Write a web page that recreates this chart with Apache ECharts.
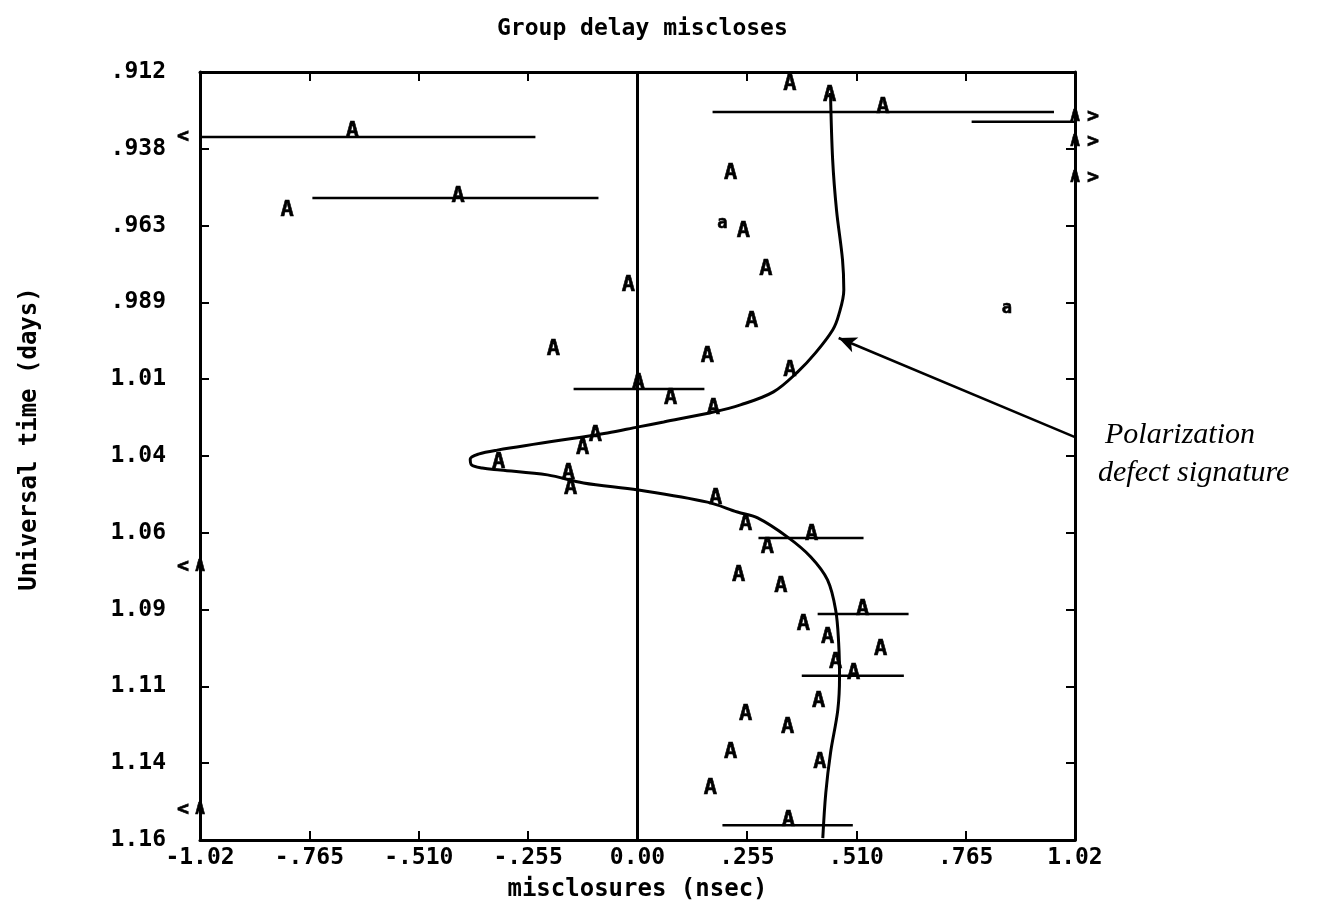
<!DOCTYPE html>
<html><head><meta charset="utf-8">
<script src="https://cdn.jsdelivr.net/npm/echarts@6/dist/echarts.min.js"></script>
<style>html,body{margin:0;padding:0;background:#fff}#c{width:1332px;height:909px}</style>
</head><body><div id="c"></div>
<script>
// ---- tick labels ----
const xTickValues = [-1.02, -0.765, -0.51, -0.255, 0, 0.255, 0.51, 0.765, 1.02];
const xTickLabels = ['-1.02', '-.765', '-.510', '-.255', '0.00', '.255', '.510', '.765', '1.02'];
const yTickValues = [0.912, 0.9368, 0.9616, 0.9864, 1.0112, 1.036, 1.0608, 1.0856, 1.1104, 1.1352, 1.16];
const yTickLabels = ['.912', '.938', '.963', '.989', '1.01', '1.04', '1.06', '1.09', '1.11', '1.14', '1.16'];

// ---- "A" observations: [misclosure nsec, UT days] ----
const obsA = [
  [0.355, 0.9159], [0.448, 0.9194], [0.572, 0.9233], [-0.665, 0.9311], [-0.418, 0.9520],
  [-0.817, 0.9566], [0.217, 0.9446], [0.247, 0.9633], [0.299, 0.9756], [-0.021, 0.9808],
  [0.266, 0.9924], [-0.196, 1.0014], [0.163, 1.0037], [0.355, 1.0082], [0.002, 1.0124],
  [0.077, 1.0173], [0.177, 1.0205], [-0.098, 1.0292], [-0.128, 1.0334], [-0.324, 1.0379],
  [-0.161, 1.0415], [-0.156, 1.0463], [0.182, 1.0496], [0.252, 1.0580], [0.406, 1.0612],
  [0.303, 1.0654], [0.236, 1.0744], [0.334, 1.0780], [0.525, 1.0854], [0.387, 1.0903],
  [0.443, 1.0944], [0.567, 1.0983], [0.462, 1.1025], [0.504, 1.1061], [0.422, 1.1151],
  [0.252, 1.1193], [0.350, 1.1235], [0.217, 1.1316], [0.425, 1.1348], [0.170, 1.1432],
  [0.352, 1.1535]
];
// ---- small "a" observations ----
const obsSmallA = [[0.198, 0.9608], [0.861, 0.9885]];

// ---- off-scale observations (plotted at the axis edge) ----
const offLeftA = [[-1.02, 1.0718], [-1.02, 1.1503]];
const offRightA = [[1.02, 0.9265], [1.02, 0.9346], [1.02, 0.9462]];
const offLeftMarks = [[-1.02, 0.9330], [-1.02, 1.0718], [-1.02, 1.1503]];
const offRightMarks = [[1.02, 0.9265], [1.02, 0.9346], [1.02, 0.9462]];

// ---- error bars: [low, high, UT days] ----
const errBars = [
  [0.175, 0.971, 0.9249], [-1.10, -0.238, 0.9330], [-0.758, -0.091, 0.9527],
  [0.779, 1.10, 0.9281], [-0.149, 0.156, 1.0144], [0.282, 0.527, 1.0625],
  [0.420, 0.632, 1.0870], [0.383, 0.621, 1.1070], [0.198, 0.502, 1.1552]
];

// ---- hand-drawn signature curve ----
const curveX = [0.450, 0.455, 0.464, 0.478, 0.481, 0.469, 0.455, 0.415, 0.373, 0.317, 0.240, 0.177,
  0.061, 0.002, -0.070, -0.098, -0.327, -0.371, -0.390, -0.387, -0.362, -0.320, -0.210, -0.126,
  0.002, 0.163, 0.233, 0.280, 0.350, 0.404, 0.443, 0.462, 0.469, 0.471, 0.467, 0.450, 0.439, 0.432];
const curveY = [0.9188, 0.9404, 0.9566, 0.9727, 0.9824, 0.9905, 0.9953, 1.0027, 1.0089, 1.0153, 1.0195, 1.0218,
  1.0250, 1.0266, 1.0286, 1.0292, 1.0341, 1.0354, 1.0370, 1.0389, 1.0399, 1.0405, 1.0421, 1.0447,
  1.0470, 1.0509, 1.0541, 1.0560, 1.0622, 1.0686, 1.0760, 1.0857, 1.0964, 1.1074, 1.1180, 1.1319, 1.1448, 1.1594];

// ---- annotation arrow ----
const arrowStart = [1.02, 1.0299];
const arrowEnd = [0.469, 0.9979];

const MONO = "'DejaVu Sans Mono', 'Liberation Mono', monospace";
const chart = echarts.init(document.getElementById('c'), null, {renderer: 'canvas'});

function nearestLabel(vals, labels) {
  return function (v) {
    let best = 0, bd = Infinity;
    vals.forEach((t, i) => { const d = Math.abs(t - v); if (d < bd) { bd = d; best = i; } });
    return bd < 1e-6 ? labels[best] : '';
  };
}

const axisLineStyle = {color: '#000', width: 3};
const tickStyle = {color: '#000', width: 2};

const textLabel = (txt, size) => ({
  show: true, position: [0.5, 0.5], align: 'center', verticalAlign: 'middle',
  formatter: txt, color: '#000', opacity: 1,
  fontFamily: MONO, fontWeight: 'bold', fontSize: size,
  textBorderColor: '#000', textBorderWidth: 0.6
});

chart.setOption({
  backgroundColor: '#fff',
  animation: false,
  title: {
    text: 'Group delay miscloses', left: 492, top: 13,
    textStyle: {fontFamily: MONO, fontWeight: 'bold', fontSize: 23, color: '#000'}
  },
  grid: {left: 200, right: 257, top: 72, bottom: 69, containLabel: false},
  xAxis: [{
    type: 'value', min: -1.02, max: 1.02, position: 'bottom',
    name: 'misclosures (nsec)', nameLocation: 'middle', nameGap: 38,
    nameTextStyle: {fontFamily: MONO, fontWeight: 'bold', fontSize: 24, color: '#000'},
    axisLine: {show: true, onZero: false, lineStyle: axisLineStyle},
    axisTick: {show: true, inside: true, length: 9, lineStyle: tickStyle, customValues: xTickValues},
    axisLabel: {show: true, margin: 7, customValues: xTickValues, formatter: nearestLabel(xTickValues, xTickLabels),
      fontFamily: MONO, fontWeight: 'bold', fontSize: 23, color: '#000'},
    splitLine: {show: false}
  }, {
    type: 'value', min: -1.02, max: 1.02, position: 'top',
    axisLine: {show: true, onZero: false, lineStyle: axisLineStyle},
    axisTick: {show: true, inside: true, length: 9, lineStyle: tickStyle, customValues: xTickValues},
    axisLabel: {show: false}, splitLine: {show: false}
  }],
  yAxis: [{
    type: 'value', min: 0.912, max: 1.16, inverse: true, position: 'left',
    name: 'Universal time (days)', nameLocation: 'middle', nameGap: 158, nameRotate: 90,
    nameTextStyle: {fontFamily: MONO, fontWeight: 'bold', fontSize: 24, color: '#000', padding: [0, 0, 0, 34]},
    axisLine: {show: true, onZero: false, lineStyle: axisLineStyle},
    axisTick: {show: true, inside: true, length: 9, lineStyle: tickStyle, customValues: yTickValues},
    axisLabel: {show: true, margin: 34, customValues: yTickValues, formatter: nearestLabel(yTickValues, yTickLabels),
      fontFamily: MONO, fontWeight: 'bold', fontSize: 23, color: '#000'},
    splitLine: {show: false}
  }, {
    type: 'value', min: 0.912, max: 1.16, inverse: true, position: 'right',
    axisLine: {show: true, onZero: false, lineStyle: axisLineStyle},
    axisTick: {show: true, inside: true, length: 9, lineStyle: tickStyle, customValues: yTickValues},
    axisLabel: {show: false}, splitLine: {show: false}
  }],
  graphic: [{
    type: 'text', left: 1105, top: 420,
    style: {text: 'Polarization', fontFamily: "'Liberation Serif', serif", fontStyle: 'italic', fontSize: 30, fill: '#000'}
  }, {
    type: 'text', left: 1098, top: 458,
    style: {text: 'defect signature', fontFamily: "'Liberation Serif', serif", fontStyle: 'italic', fontSize: 30, fill: '#000'}
  }],
  series: [{
    name: 'error bars', type: 'custom', clip: true, silent: true,
    data: errBars,
    encode: {x: [0, 1], y: 2},
    renderItem: function (params, api) {
      const p1 = api.coord([api.value(0), api.value(2)]);
      const p2 = api.coord([api.value(1), api.value(2)]);
      return {type: 'line', shape: {x1: p1[0], y1: p1[1], x2: p2[0], y2: p2[1]},
        style: {stroke: '#000', lineWidth: 2.5}};
    },
    markLine: {
      silent: true, symbol: ['none', 'none'], label: {show: false},
      lineStyle: {color: '#000', width: 3, type: 'solid'},
      data: [{xAxis: 0}]
    }
  }, {
    name: 'signature', type: 'line', smooth: 0.35, showSymbol: false, silent: true,
    data: curveX.map((x, i) => [x, curveY[i]]),
    lineStyle: {color: '#000', width: 3},
    markLine: {
      silent: true, symbol: ['none', 'arrow'], symbolSize: [12, 18], label: {show: false},
      lineStyle: {color: '#000', width: 2.5, type: 'solid'},
      data: [[{coord: arrowStart}, {coord: arrowEnd}]]
    }
  }, {
    name: 'A', type: 'scatter', symbol: 'circle', symbolSize: 1, silent: true,
    itemStyle: {color: 'transparent'},
    data: obsA, label: textLabel('A', 22)
  }, {
    name: 'a', type: 'scatter', symbol: 'circle', symbolSize: 1, silent: true,
    itemStyle: {color: 'transparent'},
    data: obsSmallA, label: textLabel('a', 17)
  }, {
    name: 'off-scale A', type: 'scatter', symbol: 'circle', symbolSize: 1, silent: true,
    itemStyle: {color: 'transparent'},
    data: offLeftA.concat(offRightA), label: textLabel('A', 16)
  }, {
    name: 'off-scale left', type: 'scatter', symbol: 'circle', symbolSize: 1, silent: true,
    itemStyle: {color: 'transparent'},
    data: offLeftMarks, label: Object.assign(textLabel('<', 20), {offset: [-17, 0]})
  }, {
    name: 'off-scale right', type: 'scatter', symbol: 'circle', symbolSize: 1, silent: true,
    itemStyle: {color: 'transparent'},
    data: offRightMarks, label: Object.assign(textLabel('>', 20), {offset: [18, 0]})
  }]
});
</script></body></html>
